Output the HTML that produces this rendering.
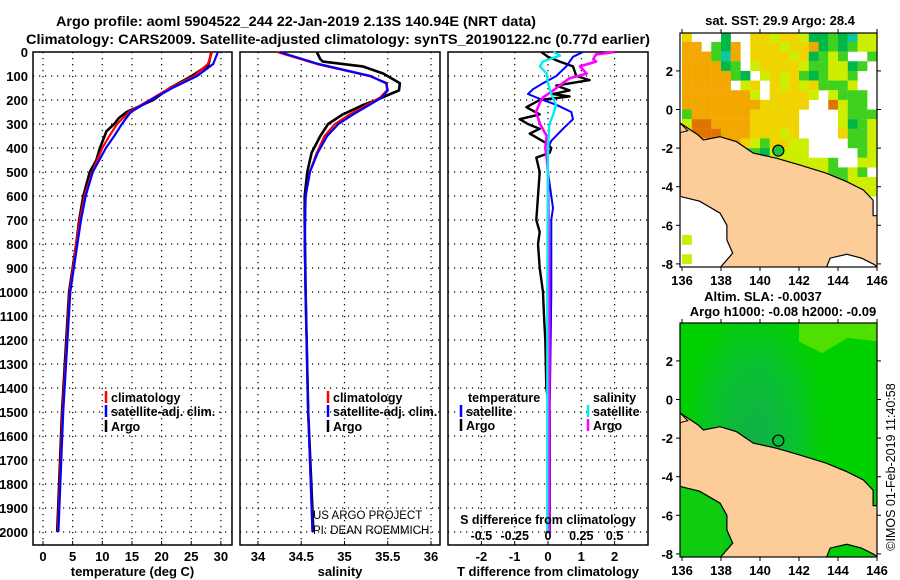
<!DOCTYPE html>
<html><head><meta charset="utf-8">
<style>
html,body{margin:0;padding:0;background:#fff;}
svg{display:block;font-family:"Liberation Sans",sans-serif;}
</style></head>
<body>
<svg id="fig" width="900" height="580" viewBox="0 0 900 580" xmlns="http://www.w3.org/2000/svg">
<text x="56" y="26" font-size="14" font-weight="bold" textLength="480" lengthAdjust="spacingAndGlyphs">Argo profile: aoml 5904522_244 22-Jan-2019 2.13S 140.94E (NRT data)</text>
<text x="26" y="44" font-size="14" font-weight="bold" textLength="624" lengthAdjust="spacingAndGlyphs">Climatology: CARS2009. Satellite-adjusted climatology: synTS_20190122.nc (0.77d earlier)</text>
<g id="g"></g>
</svg>
<script>
// ---------- data ----------
const depthTicks=[0,100,200,300,400,500,600,700,800,900,1000,1100,1200,1300,1400,1500,1600,1700,1800,1900,2000];
const tempTicks=[0,5,10,15,20,25,30];
const salTicks=[34,34.5,35,35.5,36];
const tdiffTicks=[-2,-1,0,1,2];
const sdiffTicks=[-0.5,-0.25,0,0.25,0.5];

const profDepth=[0,50,100,150,200,250,300,350,400,500,600,700,800,1000,1500,2000];
const tempClim=[28.5,27.8,25.5,21.4,18.0,14.5,12.5,11.2,10.0,8.3,7.0,6.2,5.6,4.5,3.3,2.5];
const tempSat=[29.5,28.7,26.0,21.8,18.2,14.8,13.3,12.0,10.6,8.4,7.2,6.4,5.8,4.6,3.4,2.6];
const argoTDepth=[0,54,100,150,200,250,275,300,330,400,450,500,600,700,800,1000,1500,2000];
const argoTemp=[28.4,27.9,25.1,21.4,18.6,14.1,12.8,12.0,10.7,9.6,9.0,7.9,6.8,6.1,5.6,4.4,3.2,2.4];

const salDepth=[0,50,100,130,160,190,220,260,300,350,420,500,600,800,1000,1500,2000];
const salClim=[34.22,34.68,35.29,35.49,35.49,35.41,35.26,35.06,34.89,34.77,34.68,34.60,34.55,34.54,34.55,34.58,34.63];
const salSat=[34.25,34.70,35.30,35.48,35.50,35.43,35.29,35.10,34.93,34.80,34.69,34.60,34.55,34.54,34.55,34.58,34.63];
const argoSDepth=[0,30,40,60,90,130,160,175,200,220,260,300,350,420,500,600,700,1000,1500,2000];
const argoSal=[34.68,34.72,34.75,35.21,35.45,35.64,35.63,35.53,35.37,35.22,34.98,34.81,34.72,34.62,34.57,34.54,34.54,34.55,34.58,34.64];

const tdArgoDepth=[0,20,40,60,100,117,140,160,175,185,200,230,260,280,300,320,340,380,400,420,440,500,600,700,750,800,900,1000,1100,1200,1400,1500,1700,2000];
const tdArgo=[-0.2,0.0,0.35,0.75,0.85,1.25,0.25,0.65,0.15,0.65,-0.25,-0.65,-0.25,-0.85,-0.6,-0.25,-0.55,-0.05,0.1,0.05,-0.35,-0.25,-0.3,-0.35,-0.25,-0.3,-0.25,-0.15,-0.12,-0.08,-0.05,0.05,0.05,0.05];
const tdSatDepth=[0,20,60,100,130,155,175,195,220,250,280,320,370,400,500,600,650,700,1000,1500,2000];
const tdSat=[1.05,0.75,0.55,0.25,-0.15,-0.45,-0.6,-0.25,0.25,0.7,0.75,0.45,0.1,0.0,0.0,0.1,0.15,0.1,0.1,0.05,0.05];
const sdArgoDepth=[0,10,30,40,60,90,110,130,160,190,210,250,300,350,400,440,500,1000,2000];
const sdArgo=[0.5,0.36,0.34,0.36,0.24,0.29,0.16,0.11,0.04,-0.04,-0.06,-0.09,-0.06,-0.01,-0.02,-0.01,0.0,0.01,0.01];
const sdSatDepth=[0,15,40,60,90,130,170,220,260,300,400,1000,2000];
const sdSat=[0.04,0.09,-0.04,-0.06,-0.01,0.0,0.02,0.06,0.04,0.01,0.0,-0.005,-0.005];

const lonTicks=[136,138,140,142,144,146];
const latTicks=[2,0,-2,-4,-6,-8];
const argoLon=140.94, argoLat=-2.13;
const sstGrid=[
"ywwwGwwyylyylGGgGcll",
"oowgGowyyylyyoGgGgll",
"ooogcowyyyylyGglgwwg",
"ooooGgwlyyyylggllGgw",
"ooooogGwlylygGgllgww",
"ooooowlywylylyggglww",
"ooooooolwyyyylwlgggw",
"ooooooooyyyyywwOlggw",
"gooooooyyyyywwwwlggg",
"lOOooooyyyyywwwwlGgl",
"wOOOoooyyylywwwwyggl",
"wwwoOoylgyyllwwwwggl",
"wooowwcgGllllwwwwwgl",
"wwwwwwwwwllllllgwwll",
"wwwwwwwwwwwllllgglgw",
"wwwwwwwwwwwwwlllglll",
"wwwwwwwwwwwwwwwwwwll",
"wwwwwwwwwwwwwwwwwwww",
"wwwwwwwwwwwwwwwwwwww",
"wwwwwwwwwwwwwwwwwwww",
"wwwwwwwwwwwwwwwwwwww",
"lwwwwwwwwwwwwwwwwwww",
"wwwwwwwwwwwwwwwwwwww",
"lwwwwwwwwwwwwwwwwwww"];
const landNorth=[[135.9,-0.7],[136.8,-1.3],[137.1,-1.58],[137.95,-1.41],[138.8,-1.67],[139.65,-2.26],[140.86,-2.53],[142.05,-2.88],[143.4,-3.3],[144.45,-3.74],[145.3,-4.17],[145.8,-4.7],[145.8,-5.5],[146.1,-5.5],[146.1,-8.2],[145.8,-8.0],[145.2,-7.7],[144.45,-7.5],[143.6,-7.7],[143.4,-8.2],[137.95,-8.2],[138.6,-7.44],[138.3,-6.76],[138.3,-6.0],[137.95,-5.37],[136.9,-4.75],[135.9,-4.5]];

// ---------- helpers ----------
const NS="http://www.w3.org/2000/svg";
const G=document.getElementById('g');
function el(tag,attrs,parent,txt){const e=document.createElementNS(NS,tag);for(const k in attrs)e.setAttribute(k,attrs[k]);if(txt!==undefined)e.textContent=txt;(parent||G).appendChild(e);return e;}
const yD=d=>52+d*0.24;
const Y0=52,Y1=545;
function panel(name,x0,x1,xs,ticks,fmt,title){
  const g=el('g',{});
  
  
  for(const t of ticks){const x=xs(t);
    const l=el('line',{x1:x,x2:x,y1:Y0,y2:Y1,stroke:'#000','stroke-width':1.2,'stroke-dasharray':'1.2 4.8'},g);
    
    el('line',{x1:x,x2:x,y1:Y1,y2:Y1-4,stroke:'#000'},g);
    if(fmt){const tx=el('text',{x:x,y:561,'font-size':13,'font-weight':'bold','text-anchor':'middle'},g,fmt(t));
      }
  }
  for(const d of depthTicks){const y=yD(d);
    if(d>0&&d<2050){const l=el('line',{x1:x0,x2:x1,y1:y,y2:y,stroke:'#000','stroke-width':1.2,'stroke-dasharray':'1.2 4.8'},g);
      }
  }
  const r=el('rect',{x:x0,y:Y0,width:x1-x0,height:Y1-Y0,fill:'none',stroke:'#000','stroke-width':1.5},g);
  
  if(title){const t=el('text',{x:(x0+x1)/2,y:576,'font-size':13,'font-weight':'bold','text-anchor':'middle'},g,title);
    }
  return g;
}
function line(g,name,xs,vals,depths,color,w){
  const pts=vals.map((v,i)=>xs(v).toFixed(1)+','+yD(depths[i]).toFixed(1)).join(' ');
  const p=el('polyline',{points:pts,fill:'none',stroke:color,'stroke-width':w||2.2,'stroke-linejoin':'round'},g);
  
  
}
function legend(g,x,y,color,label,name){
  el('line',{x1:x,x2:x,y1:y-11,y2:y+1,stroke:color,'stroke-width':2.5},g);
  const t=el('text',{x:x+5,y:y,'font-size':12.5,'font-weight':'bold'},g,label);
  
}

for(const d of depthTicks){
  const t=el('text',{x:28,y:yD(d)+5,'font-size':13,'font-weight':'bold','text-anchor':'end'},G,String(d));
  
  
}

const xT=v=>43+v*5.93;
const p1=panel('temperature-panel',33,232,xT,tempTicks,v=>String(v),'temperature (deg C)');
line(p1,'argo-temperature-line',xT,argoTemp,argoTDepth,'#000',2.6);
line(p1,'climatology-temperature-line',xT,tempClim,profDepth,'#f00');
line(p1,'satellite-temperature-line',xT,tempSat,profDepth,'#00f');
legend(p1,106,402,'#f00','climatology','legend-climatology');
legend(p1,106,416,'#00f','satellite-adj. clim.','legend-satellite');
legend(p1,106,431,'#000','Argo','legend-argo');

const xS=v=>258+(v-34)*86.5;
const p2=panel('salinity-panel',240,440,xS,salTicks,v=>String(v),'salinity');
line(p2,'argo-salinity-line',xS,argoSal,argoSDepth,'#000',2.6);
line(p2,'climatology-salinity-line',xS,salClim,salDepth,'#f00');
line(p2,'satellite-salinity-line',xS,salSat,salDepth,'#00f');
legend(p2,328,402,'#f00','climatology','legend-climatology');
legend(p2,328,416,'#00f','satellite-adj. clim.','legend-satellite');
legend(p2,328,431,'#000','Argo','legend-argo');
let t1=el('text',{x:313,y:519,'font-size':11.5},p2,'US ARGO PROJECT');
let t2=el('text',{x:313,y:534,'font-size':11.5},p2,'PI: DEAN ROEMMICH');

const xTD=v=>548+v*33.3;
const xSD=v=>548+v*133.2;
const p3=panel('difference-panel',448,648,xTD,tdiffTicks,v=>String(v),'T difference from climatology');
line(p3,'argo-temp-diff-line',xTD,tdArgo,tdArgoDepth,'#000',2.4);
line(p3,'satellite-temp-diff-line',xTD,tdSat,tdSatDepth,'#00f',2);
line(p3,'argo-sal-diff-line',xSD,sdArgo,sdArgoDepth,'#f0f',2.6);
line(p3,'satellite-sal-diff-line',xSD,sdSat,sdSatDepth,'#0ee',2.4);
let t3=el('text',{x:468,y:402,'font-size':12.5,'font-weight':'bold'},p3,'temperature');
let t4=el('text',{x:593,y:402,'font-size':12.5,'font-weight':'bold'},p3,'salinity');
legend(p3,461,416,'#00f','satellite','legend-temp-satellite');
legend(p3,461,430,'#000','Argo','legend-temp-argo');
legend(p3,588,416,'#0ee','satellite','legend-sal-satellite');
legend(p3,588,430,'#f0f','Argo','legend-sal-argo');
let t5=el('text',{x:548,y:524,'font-size':12.5,'font-weight':'bold','text-anchor':'middle'},p3,'S difference from climatology');
for(const s of sdiffTicks){
  const t=el('text',{x:xSD(s),y:540,'font-size':12.5,'font-weight':'bold','text-anchor':'middle'},p3,String(s));
  
  
}

// ---------- maps ----------
const mx=lon=>682+(lon-136)*19.5;
function mapPanel(name,top,kind){
  const lat0=top+76.5;
  const my=lat=>lat0-lat*19.3;
  const g=el('g',{});
  
  
  const cid='clip'+kind;
  const cp=el('clipPath',{id:cid},g);
  el('rect',{x:680,y:top,width:197,height:234},cp);
  const body=el('g',{'clip-path':'url(#'+cid+')'},g);
  if(kind==='sst'){
    const col={o:'#f2a800',O:'#e07400',y:'#f0d400',l:'#cdee00',g:'#40d020',G:'#00b848',c:'#10c8a0',w:'#fff'};
    sstGrid.forEach((row,r)=>{for(let c=0;c<row.length;c++){const k=row[c];if(k==='w')continue;
      const lon=136+c*0.5,lat=4-r*0.5;
      const rc=el('rect',{x:mx(lon),y:my(lat),width:9.9,height:9.8,fill:col[k]},body);
      
      }});
  } else {
    const defs=el('defs',{},body);
    const rg=el('radialGradient',{id:'sla',cx:'0.38',cy:'0.5',r:'0.45',gradientTransform:'translate(0.38 0.5) scale(0.8 1.3) translate(-0.38 -0.5)'},defs);
    el('stop',{offset:'0','stop-color':'#12b048'},rg);
    el('stop',{offset:'0.55','stop-color':'#08c030'},rg);
    el('stop',{offset:'1','stop-color':'#00d000'},rg);
    el('rect',{x:680,y:top,width:197,height:234,fill:'#00d000'},body);
    el('rect',{x:680,y:top,width:197,height:234,fill:'url(#sla)'},body);
    el('path',{d:`M${mx(142)} ${my(4)} L${mx(146.1)} ${my(4)} L${mx(146.1)} ${my(3)} L${mx(144.5)} ${my(3.2)} L${mx(143.2)} ${my(2.4)} L${mx(142)} ${my(3)} Z`,fill:'#50e000'},body);
    el('path',{d:`M${mx(135.9)} ${my(-4.5)} L${mx(137.95)} ${my(-5.37)} L${mx(138.3)} ${my(-6.76)} L${mx(137.95)} ${my(-8.2)} L${mx(135.9)} ${my(-8.2)} Z`,fill:'#10cc10'},body);
  }
  const pts=landNorth.map(p=>mx(p[0]).toFixed(1)+','+my(p[1]).toFixed(1)).join(' ');
  const land=el('polygon',{points:pts,fill:'#fccc99',stroke:'#000','stroke-width':1.2},body);
  
  
  el('polygon',{points:`${mx(135.9)},${my(-0.7)} ${mx(136.3)},${my(-1.1)} ${mx(135.9)},${my(-1.2)}`,fill:'#fccc99',stroke:'#000'},body);
  const m=el('circle',{cx:mx(argoLon),cy:my(argoLat),r:5.5,fill:kind==='sst'?'#20c040':'none',stroke:'#000','stroke-width':1.2},g);
  
  
  el('rect',{x:680,y:top,width:197,height:234,fill:'none',stroke:'#000','stroke-width':1.2},g);
  for(const lat of latTicks){const y=my(lat);
    el('line',{x1:676,x2:680,y1:y,y2:y,stroke:'#000'},g);el('line',{x1:877,x2:881,y1:y,y2:y,stroke:'#000'},g);
    const t=el('text',{x:673,y:y+5,'font-size':13,'font-weight':'bold','text-anchor':'end'},g,String(lat));
    }
  for(const lon of lonTicks){const x=mx(lon);
    el('line',{x1:x,x2:x,y1:top+234,y2:top+238,stroke:'#000'},g);el('line',{x1:x,x2:x,y1:top-4,y2:top,stroke:'#000'},g);
    const t=el('text',{x:x,y:top+252,'font-size':13,'font-weight':'bold','text-anchor':'middle'},g,String(lon));
    }
  return g;
}
const m1=mapPanel('sst-map',33,'sst');
let mt1=el('text',{x:780,y:25,'font-size':13,'font-weight':'bold','text-anchor':'middle'},m1,'sat. SST: 29.9 Argo: 28.4');
const m2=mapPanel('sla-map',323,'sla');
let mt2=el('text',{x:763,y:301,'font-size':13,'font-weight':'bold','text-anchor':'middle'},m2,'Altim. SLA: -0.0037');
let mt3=el('text',{x:783,y:316,'font-size':13,'font-weight':'bold','text-anchor':'middle'},m2,'Argo h1000: -0.08 h2000: -0.09');
let cr=el('text',{x:0,y:0,'font-size':12.5,'text-anchor':'middle',transform:'translate(895,467) rotate(-90)'},G,'©IMOS 01-Feb-2019 11:40:58');


</script>
</body></html>
